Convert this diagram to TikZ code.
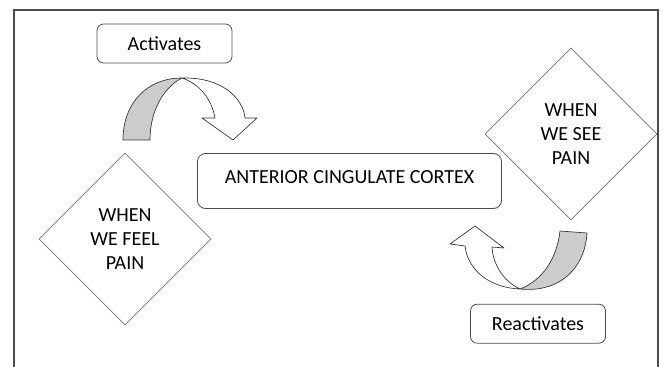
\documentclass[tikz,border=0pt]{standalone}
\usepackage{fontspec}
\setmainfont{Carlito}
\usetikzlibrary{shapes.geometric}

\begin{document}
\begin{tikzpicture}[x=0.75pt, y=-0.75pt]

        % 1. Define the drawing limits and the frame corners
        \useasboundingbox (0,0) rectangle (664,367);

        \coordinate (FTL) at (14, 10);   % Frame Top Left
        \coordinate (FTR) at (658, 10);  % Frame Top Right
        \coordinate (FBL) at (14, 367);  % Frame Bottom Left
        \coordinate (FBR) at (658, 367); % Frame Bottom Right

        % Open frame (no bottom line)
        \draw[line width=0.8pt, black!70] (FBL) -- (FTL) -- (FTR) -- (FBR);

        % 2. Styles for the boxes, the diamonds and the curved arrows
        \tikzset{
            labelbox/.style={draw=black!70, line width=0.6pt, rounded corners=5pt,
                minimum width=101.25pt, minimum height=29.25pt, inner sep=0pt,
                font=\fontsize{15}{18}\selectfont},
            paindiamond/.style={diamond, draw=black!55, line width=0.6pt,
                minimum width=129pt, minimum height=129pt, inner sep=0pt,
                align=center, font=\fontsize{15}{18}\selectfont},
            band/.style={draw=black!80, line width=0.5pt, line join=round}
        }

        % 3. Boxes
        \node[labelbox] (activates) at (164.5, 43.5) {Activates};
        \node[labelbox, minimum width=228pt, minimum height=41.25pt,
              rounded corners=6pt, text depth=6pt] (cortex) at (349.5, 181) {ANTERIOR CINGULATE CORTEX};
        \node[labelbox] (reactivates) at (538, 323.7) {Reactivates};

        % 4. Diamonds
        \node[paindiamond] (feel) at (125, 239) {WHEN\\WE FEEL\\PAIN};
        \node[paindiamond] (see) at (571, 134) {WHEN\\WE SEE\\PAIN};

        % 5. Curved arrow at the top (gray back side, white front with head)
        \filldraw[band, fill=black!20] (123,140) .. controls (123,103) and (147,78) .. (182,78)
            .. controls (166,86) and (150,108) .. (150,140) -- cycle;
        \filldraw[band, fill=white] (182,78) .. controls (222,77) and (243,98) .. (245,118)
            -- (257,118) -- (233,140) -- (202,118) -- (215,118)
            .. controls (212,100) and (200,84) .. (182,78) -- cycle;

        % 6. Curved arrow at the bottom right
        \filldraw[band, fill=white] (465,246) .. controls (468,272) and (492,288) .. (520,289)
            .. controls (505,282) and (493,266) .. (492,247)
            -- (504,248) -- (475,226) -- (450,244) -- cycle;
        \filldraw[band, fill=black!20] (520,289) .. controls (560,293) and (585,268) .. (587,233)
            -- (560,231) .. controls (557,258) and (543,280) .. (520,289) -- cycle;

    \end{tikzpicture}
\end{document}
